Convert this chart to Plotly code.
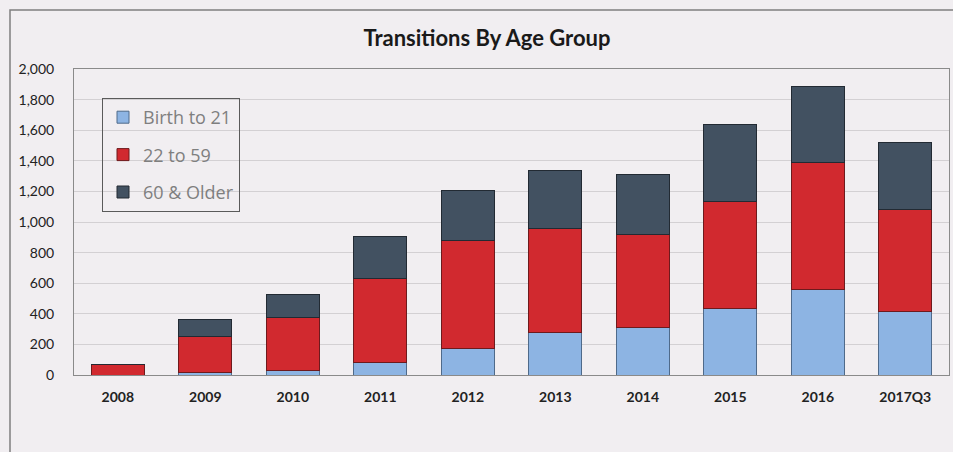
import plotly.graph_objects as go

categories = ["2008", "2009", "2010", "2011", "2012", "2013", "2014", "2015", "2016", "2017Q3"]
birth_to_21 = [0, 15, 30, 80, 170, 275, 310, 435, 560, 415]
age_22_to_59 = [68, 235, 347, 550, 710, 680, 610, 700, 830, 670]
age_60_older = [2, 110, 148, 275, 325, 380, 390, 505, 495, 435]
y_ticks = [0, 200, 400, 600, 800, 1000, 1200, 1400, 1600, 1800, 2000]

W, H = 953, 452
ML, MR, MT, MB = 74, 4, 69, 77
PW, PH = W - ML - MR, H - MT - MB

bg = "#f1eef1"
series = [
    ("Birth to 21", birth_to_21, "#8db4e3", "#4f6a8a"),
    ("22 to 59", age_22_to_59, "#d1292f", "#6e1a1d"),
    ("60 & Older", age_60_older, "#425161", "#222a33"),
]

fig = go.Figure()
for i, (name, vals, col, lc) in enumerate(series):
    fig.add_trace(go.Bar(
        x=categories, y=vals, name=name, legendgroup=f"g{i}",
        marker=dict(color=col, line=dict(color=lc, width=1)),
        width=0.61,
    ))

def px_x(p):
    return (p - ML) / PW

def px_y(p):
    return (H - MB - p) / PH

fig.update_layout(
    width=W, height=H,
    margin=dict(l=ML, r=MR, t=MT, b=MB),
    barmode="stack",
    paper_bgcolor=bg, plot_bgcolor=bg,
    title=dict(text="<b>Transitions By Age Group</b>", x=0.511, xanchor="center",
               y=1 - 38 / H, yanchor="middle",
               font=dict(family="Lato", size=22, color="#1a1a1a")),
    font=dict(family="Lato", color="#222"),
    showlegend=True,
    legend=dict(
        x=px_x(102), y=px_y(98), xanchor="left", yanchor="top",
        bgcolor="rgba(0,0,0,0)", bordercolor="#5a5a5a", borderwidth=1,
        font=dict(family="Open Sans", size=18, color="#7f7f7f"),
        traceorder="grouped", tracegroupgap=11,
        itemwidth=30, entrywidth=140,
    ),
    xaxis=dict(
        type="category", showgrid=False,
        showline=True, linecolor="#8a8a8a", linewidth=1, mirror=True,
        tickfont=dict(family="Lato", size=14, color="#222"),
        ticks="", ticklabelstandoff=9,
        tickprefix="<b>", ticksuffix="</b>",
    ),
    yaxis=dict(
        range=[0, 2000], tickvals=y_ticks, tickformat=",d",
        showgrid=True, gridcolor="#d3d0d3", gridwidth=1,
        showline=True, linecolor="#8a8a8a", linewidth=1, mirror=True,
        zeroline=True, zerolinecolor="#707070", zerolinewidth=1,
        tickfont=dict(family="Lato", size=14, color="#222"),
        ticks="", ticklabelstandoff=16,
        tickprefix="<b>", ticksuffix="</b>",
    ),
    shapes=[dict(
        type="rect", xref="paper", yref="paper",
        x0=px_x(10), x1=px_x(970), y0=px_y(480), y1=px_y(10),
        line=dict(color="#7f7f7f", width=1.5), layer="below",
    )],
)

fig.write_html("out.html", config={"displayModeBar": False},
               post_script="document.body.style.margin='0';document.body.style.overflow='hidden';")
